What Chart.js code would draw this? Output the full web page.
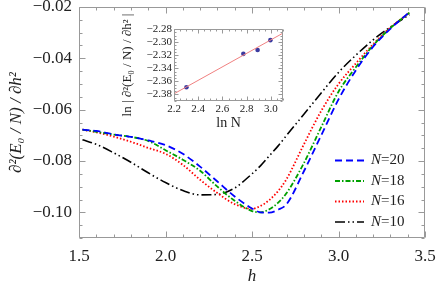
<!DOCTYPE html>
<html><head><meta charset="utf-8">
<script src="https://cdn.jsdelivr.net/npm/chart.js@4"></script>
<style>html,body{margin:0;padding:0;background:#fff;}#wrap{position:relative;width:436px;height:287px;}
#main{position:absolute;left:0;top:0;}#inset{position:absolute;left:118px;top:4px;}</style>
</head><body><div id="wrap"><canvas id="main" width="436" height="287"></canvas><canvas id="inset" width="174" height="129"></canvas></div>
<script>
// ---- data ----
const hValues = [1.52,1.6,1.7,1.8,1.9,2.0,2.1,2.2,2.3,2.4,2.5,2.55,2.6,2.65,2.7,2.8,2.9,3.0,3.1,3.2,3.3,3.41];
const seriesN20 = [-0.0678,-0.0683,-0.0696,-0.0706,-0.0720,-0.0738,-0.0772,-0.0822,-0.0880,-0.0938,-0.0985,-0.1000,-0.1001,-0.0990,-0.0968,-0.0840,-0.0700,-0.0560,-0.0447,-0.0355,-0.0285,-0.0220];
const seriesN18 = [-0.0678,-0.0686,-0.0697,-0.0706,-0.0722,-0.0758,-0.0795,-0.0838,-0.0900,-0.0955,-0.0995,-0.1000,-0.0988,-0.0963,-0.0925,-0.0808,-0.0668,-0.0530,-0.0435,-0.0350,-0.0282,-0.0222];
const seriesN16 = [-0.0678,-0.0688,-0.0705,-0.0725,-0.0749,-0.0772,-0.0815,-0.0873,-0.0925,-0.0968,-0.0986,-0.0975,-0.0952,-0.0918,-0.0870,-0.0735,-0.0605,-0.0500,-0.0420,-0.0345,-0.0280,-0.0222];
const seriesN10 = [-0.0717,-0.0735,-0.0768,-0.0805,-0.0846,-0.0884,-0.0915,-0.0932,-0.0930,-0.0905,-0.0850,-0.0818,-0.0780,-0.0742,-0.0700,-0.0618,-0.0535,-0.0455,-0.0388,-0.0328,-0.0278,-0.0230];
const seriesLabels = ['20','18','16','10'];
const xTicksMain = [1.5,2.0,2.5,3.0,3.5];
const yTicksMain = [-0.10,-0.08,-0.06,-0.04,-0.02];

const insetLnN = [2.3026,2.7726,2.8904,2.9957];
const insetLnD = [-2.369,-2.318,-2.312,-2.297];
const fitX = [2.2,3.1];
const fitY = [-2.379,-2.2863];
const xTicksInset = [2.2,2.4,2.6,2.8,3.0];
const yTicksInset = [-2.38,-2.36,-2.34,-2.32,-2.30,-2.28];

const SERIF = "'Liberation Serif', 'DejaVu Serif', serif";
const minus = v => (v < 0 ? '\u2212' : '') + Math.abs(v).toFixed(2);

const frameTicks = {
  id: 'frameTicks',
  afterDatasetsDraw(chart, args, o) {
    const {ctx, chartArea: a, scales: {x, y}} = chart;
    ctx.save();
    ctx.strokeStyle = o.color; ctx.lineWidth = 1;
    const L = Math.round(a.left) + 0.5, R = Math.round(a.right) - 0.5, T = Math.round(a.top) + 0.5, B = Math.round(a.bottom) - 0.5;
    ctx.beginPath(); ctx.rect(L, T, R - L, B - T); ctx.stroke();
    const eps = 1e-9;
    const xs = (v, len) => { const p = Math.round(x.getPixelForValue(v)) + 0.5; ctx.moveTo(p, B); ctx.lineTo(p, B - len); ctx.moveTo(p, T); ctx.lineTo(p, T + len); };
    const ys = (v, len) => { const p = Math.round(y.getPixelForValue(v)) + 0.5; ctx.moveTo(L, p); ctx.lineTo(L + len, p); ctx.moveTo(R, p); ctx.lineTo(R - len, p); };
    ctx.beginPath();
    for (let k = Math.ceil(x.min / o.xMinor - eps); k * o.xMinor <= x.max + eps; k++) { const v = k * o.xMinor; const maj = o.xMajor.some(m => Math.abs(m - v) < 1e-6); xs(v, maj ? o.major : o.minor); }
    for (let k = Math.ceil(y.min / o.yMinor - eps); k * o.yMinor <= y.max + eps; k++) { const v = k * o.yMinor; const maj = o.yMajor.some(m => Math.abs(m - v) < 1e-6); ys(v, maj ? o.major : o.minor); }
    ctx.stroke();
    ctx.restore();
  }
};

const legendDraw = {
  id: 'legendDraw',
  afterDatasetsDraw(chart, args, o) {
    const ctx = chart.ctx;
    ctx.save();
    chart.data.datasets.forEach((ds, i) => {
      const yy = o.rows[i];
      ctx.strokeStyle = ds.borderColor; ctx.lineWidth = ds.borderWidth; ctx.setLineDash(ds.borderDash || []);
      ctx.beginPath(); ctx.moveTo(o.x0, yy); ctx.lineTo(o.x1, yy); ctx.stroke();
      ctx.setLineDash([]);
      ctx.fillStyle = '#222'; ctx.textBaseline = 'middle'; ctx.textAlign = 'left';
      ctx.font = 'italic ' + o.size + 'px ' + SERIF;
      ctx.fillText('N', o.tx, yy);
      const w = ctx.measureText('N').width;
      ctx.font = o.size + 'px ' + SERIF;
      ctx.fillText('=' + seriesLabels[i], o.tx + w, yy);
    });
    ctx.restore();
  }
};

const mk = (vals) => hValues.map((h, i) => ({x: h, y: vals[i]}));
new Chart(document.getElementById('main'), {
  type: 'line',
  data: { datasets: [
    {label: 'N=20', data: mk(seriesN20), borderColor: '#0000ff', borderWidth: 1.8, borderDash: [7,4]},
    {label: 'N=18', data: mk(seriesN18), borderColor: '#00a000', borderWidth: 1.8, borderDash: [5,2,1.5,2]},
    {label: 'N=16', data: mk(seriesN16), borderColor: '#ff0000', borderWidth: 1.8, borderDash: [1.5,2]},
    {label: 'N=10', data: mk(seriesN10), borderColor: '#000000', borderWidth: 1.6, borderDash: [10,3,1.5,3,1.5,3]}
  ]},
  options: {
    responsive: false, animation: false, devicePixelRatio: 1,
    layout: {padding: {top: 7, right: 11, left: 0, bottom: 0}},
    elements: {point: {radius: 0}, line: {cubicInterpolationMode: 'monotone', fill: false}},
    plugins: {legend: {display: false}, tooltip: {enabled: false},
      frameTicks: {color: '#999', major: 6, minor: 3, xMajor: xTicksMain, xMinor: 0.1, yMajor: yTicksMain, yMinor: 0.005},
      legendDraw: {x0: 335, x1: 364, tx: 371, size: 15, rows: [160.5, 181, 201.5, 222]}
    },
    scales: {
      x: {type: 'linear', min: 1.5, max: 3.5,
        grid: {display: false, drawTicks: false}, border: {display: false},
        afterBuildTicks: s => { s.ticks = xTicksMain.map(v => ({value: v})); },
        afterFit: s => { s.height = 49; s.paddingLeft = 0; s.paddingRight = 0; },
        ticks: {font: {family: SERIF, size: 17}, color: '#222', padding: 8, maxRotation: 0, autoSkip: false, callback: v => v.toFixed(1)},
        title: {display: true, text: 'h', font: {family: SERIF, size: 17, style: 'italic'}, color: '#222', padding: {top: 0, bottom: 0}}
      },
      y: {type: 'linear', min: -0.11, max: -0.02,
        grid: {display: false, drawTicks: false}, border: {display: false},
        afterBuildTicks: s => { s.ticks = yTicksMain.map(v => ({value: v})); },
        afterFit: s => { s.width = 79; s.paddingTop = 0; s.paddingBottom = 0; },
        ticks: {font: {family: SERIF, size: 17}, color: '#222', padding: 7, autoSkip: false, callback: v => minus(v)},
        title: {display: true, text: '\u2202\u00B2(E\u2080 / N) / \u2202h\u00B2', font: {family: SERIF, size: 17, style: 'italic'}, color: '#222', padding: {top: 6, bottom: 0}}
      }
    }
  },
  plugins: [frameTicks, legendDraw]
});

new Chart(document.getElementById('inset'), {
  type: 'scatter',
  data: { datasets: [
    {data: fitX.map((v, i) => ({x: v, y: fitY[i]})), showLine: true, borderColor: '#f08080', borderWidth: 1, pointRadius: 0},
    {data: insetLnN.map((v, i) => ({x: v, y: insetLnD[i]})), showLine: false, pointRadius: 2.3, pointBackgroundColor: '#3b3ba0', pointBorderColor: '#3b3ba0', pointBorderWidth: 0}
  ]},
  options: {
    responsive: false, animation: false, devicePixelRatio: 1,
    layout: {padding: {top: 25, right: 9, left: 0, bottom: 0}},
    plugins: {legend: {display: false}, tooltip: {enabled: false},
      frameTicks: {color: '#999', major: 4, minor: 2, xMajor: xTicksInset, xMinor: 0.05, yMajor: yTicksInset, yMinor: 0.005}
    },
    scales: {
      x: {type: 'linear', min: 2.2, max: 3.1,
        grid: {display: false, drawTicks: false}, border: {display: false},
        afterBuildTicks: s => { s.ticks = xTicksInset.map(v => ({value: v})); },
        afterFit: s => { s.height = 32; s.paddingLeft = 0; s.paddingRight = 0; },
        ticks: {font: {family: SERIF, size: 11}, color: '#222', padding: 2, maxRotation: 0, autoSkip: false, callback: v => v.toFixed(1)},
        title: {display: true, text: 'ln N', font: {family: SERIF, size: 14}, color: '#222', padding: {top: 0, bottom: 1}}
      },
      y: {type: 'linear', min: -2.39, max: -2.28,
        grid: {display: false, drawTicks: false}, border: {display: false},
        afterBuildTicks: s => { s.ticks = yTicksInset.map(v => ({value: v})); },
        afterFit: s => { s.width = 56; s.paddingTop = 0; s.paddingBottom = 0; },
        ticks: {font: {family: SERIF, size: 11}, color: '#222', padding: 2, autoSkip: false, callback: v => minus(v)},
        title: {display: true, text: 'ln | \u2202\u00B2(E\u2080 / N) / \u2202h\u00B2 |', font: {family: SERIF, size: 13}, color: '#222', padding: {top: 2, bottom: 0}}
      }
    }
  },
  plugins: [frameTicks]
});
</script></body></html>
